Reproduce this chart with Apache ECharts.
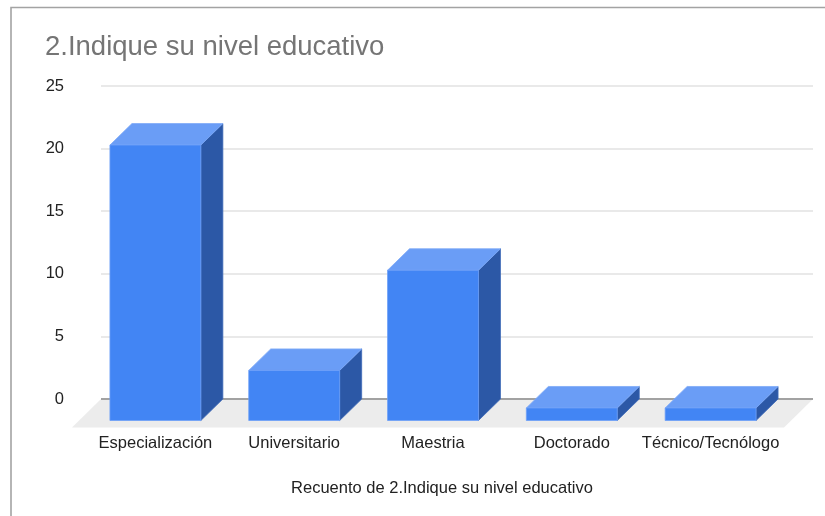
<!DOCTYPE html>
<html>
<head>
<meta charset="utf-8">
<script src="https://cdn.jsdelivr.net/npm/echarts@6/dist/echarts.min.js"></script>
<style>
  html, body { margin: 0; padding: 0; background: #ffffff; }
  #chart { width: 825px; height: 516px; }
</style>
</head>
<body>
<div id="chart"></div>
<script>
// Survey answers: education level counts
const categories = ['Especialización', 'Universitario', 'Maestria', 'Doctorado', 'Técnico/Tecnólogo'];
const counts = [22, 4, 12, 1, 1];
const yTickValues = [0, 5, 10, 15, 20, 25];
const chartTitle = '2.Indique su nivel educativo';
const xAxisTitle = 'Recuento de 2.Indique su nivel educativo';

// Pseudo-3D extrusion (pixels) for the bars and the floor slab
const BAR_DX = 22, BAR_DY = 21.5;
const FLOOR_DX = 29, FLOOR_DY = 28.5;

const FRONT = '#4285f4';
const TOP = '#6a9df6';
const SIDE = '#2c58a6';
const FONT = '"Liberation Sans", Arial, sans-serif';

const yMin = yTickValues[0];
const yMax = yTickValues[yTickValues.length - 1];
const yStep = yTickValues[1] - yTickValues[0];

function renderFloor(params, api) {
  const cs = params.coordSys;
  const x0 = cs.x, x1 = cs.x + cs.width;
  const yb = api.coord([0, yMin])[1];
  return {
    type: 'group',
    children: [
      {
        type: 'polygon',
        shape: { points: [[x0, yb], [x1, yb], [x1 - FLOOR_DX, yb + FLOOR_DY], [x0 - FLOOR_DX, yb + FLOOR_DY]] },
        style: { fill: '#ececec' }
      },
      {
        type: 'line',
        shape: { x1: x0, y1: yb, x2: x1, y2: yb },
        style: { stroke: '#8a8a8a', lineWidth: 1.6 }
      }
    ]
  };
}

function renderBar(params, api) {
  const idx = api.value(0);
  const v = api.value(1);
  const topPt = api.coord([idx, v]);
  const basePt = api.coord([idx, 0]);
  const w = api.size([1, 0])[0] * 0.655;
  const bl = topPt[0] - w / 2, br = topPt[0] + w / 2;
  const ty = topPt[1], by = basePt[1];
  const fl = bl - BAR_DX, fr = br - BAR_DX;
  const fty = ty + BAR_DY, fby = by + BAR_DY;
  return {
    type: 'group',
    children: [
      {
        type: 'polygon',
        shape: { points: [[fr, fty], [br, ty], [br, by], [fr, fby]] },
        style: { fill: SIDE, stroke: '#3d69b8', lineWidth: 0.8 }
      },
      {
        type: 'polygon',
        shape: { points: [[fl, fty], [bl, ty], [br, ty], [fr, fty]] },
        style: { fill: TOP, stroke: '#7eaaf7', lineWidth: 0.8 }
      },
      {
        type: 'rect',
        shape: { x: fl, y: fty, width: w, height: fby - fty },
        style: { fill: FRONT, stroke: '#6d9ff7', lineWidth: 0.8 }
      }
    ]
  };
}

const chart = echarts.init(document.getElementById('chart'), null, { renderer: 'canvas' });

chart.setOption({
  animation: false,
  backgroundColor: '#ffffff',
  textStyle: { fontFamily: FONT },
  title: {
    text: chartTitle,
    left: 40,
    top: 28,
    textStyle: { fontFamily: FONT, fontSize: 27.5, fontWeight: 'normal', color: '#757575' }
  },
  graphic: [
    {
      type: 'rect',
      left: 8.5, top: 5,
      shape: { width: 830, height: 530 },
      style: { fill: 'none', stroke: '#a3a3a3', lineWidth: 1.6 },
      silent: true
    }
  ],
  grid: [
    { left: 101, right: 12, top: 86, bottom: 117 },   // back wall with gridlines
    { left: 108, right: 23, top: 86, bottom: 117 },   // bar positions on back wall
    { left: 86, right: 45, top: 107.5, bottom: 95.5 } // front edge for category labels
  ],
  xAxis: [
    { gridIndex: 0, type: 'category', data: categories, show: false },
    { gridIndex: 1, type: 'category', data: categories, show: false },
    {
      gridIndex: 2, type: 'category', data: categories,
      axisLine: { show: false }, axisTick: { show: false }, splitLine: { show: false },
      axisLabel: { margin: 14, fontSize: 16.5, color: '#222222', fontFamily: FONT, interval: 0 },
      name: xAxisTitle, nameLocation: 'middle', nameGap: 59,
      nameTextStyle: { fontSize: 16.5, color: '#222222', fontFamily: FONT, padding: [0, 0, 0, 18] }
    }
  ],
  yAxis: [
    {
      gridIndex: 0, type: 'value', min: yMin, max: yMax, interval: yStep,
      axisLine: { show: false }, axisTick: { show: false },
      axisLabel: { margin: 37, fontSize: 16.5, color: '#222222', fontFamily: FONT },
      splitLine: { lineStyle: { color: '#e2e2e2', width: 1.5 } }
    },
    { gridIndex: 1, type: 'value', min: yMin, max: yMax, show: false },
    { gridIndex: 2, type: 'value', min: yMin, max: yMax, show: false }
  ],
  series: [
    {
      type: 'custom',
      name: 'floor',
      xAxisIndex: 0, yAxisIndex: 0,
      renderItem: renderFloor,
      data: [[0, 0]],
      silent: true,
      z: 1
    },
    {
      type: 'custom',
      name: xAxisTitle,
      xAxisIndex: 1, yAxisIndex: 1,
      renderItem: renderBar,
      encode: { x: 0, y: 1 },
      data: counts.map((c, i) => [i, c]),
      z: 3
    }
  ]
});
</script>
</body>
</html>
